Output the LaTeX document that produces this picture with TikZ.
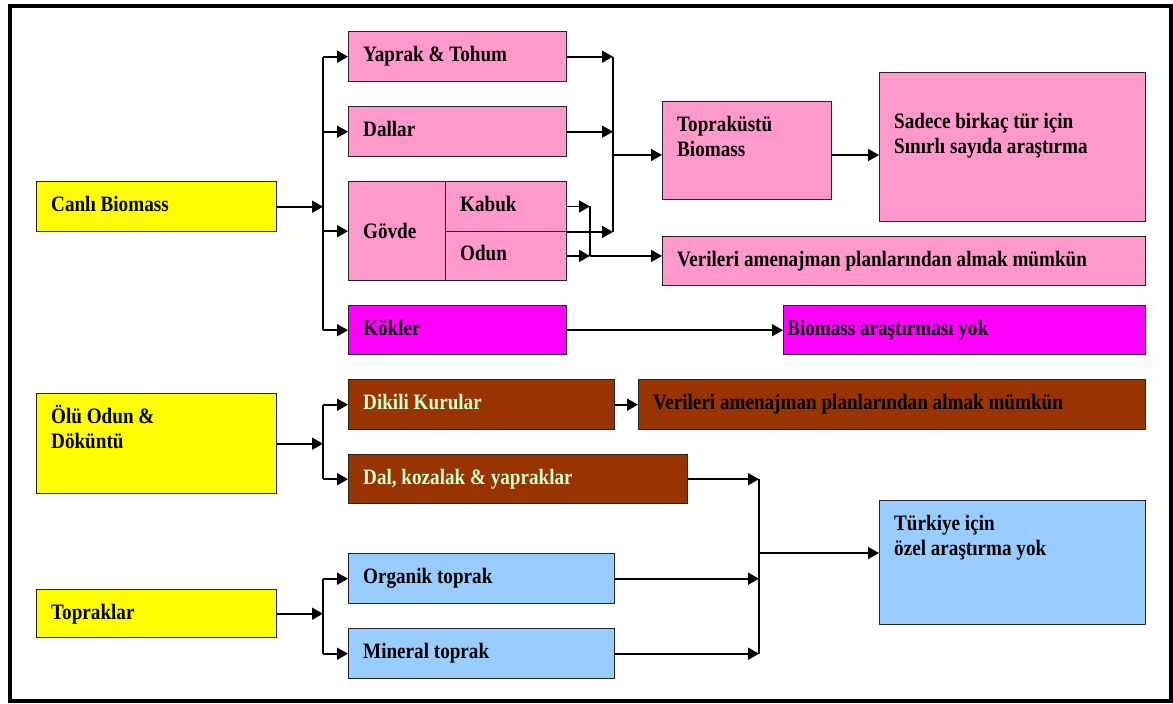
\documentclass[tikz,border=0pt]{standalone}
\usepackage{fontspec}
\setmainfont{Liberation Serif}[FakeStretch=0.87]
\usetikzlibrary{arrows.meta,positioning,calc}
\usepackage{xcolor}
\definecolor{yel}{HTML}{FFFF00}
\definecolor{pnk}{HTML}{FF99CC}
\definecolor{mag}{HTML}{FF00FF}
\definecolor{brn}{HTML}{993300}
\definecolor{blu}{HTML}{99CCFF}
\definecolor{lgrn}{HTML}{CCFFCC}

\begin{document}
\begin{tikzpicture}[x=1pt, y=-1pt,
  box/.style={rectangle, draw=black!85, line width=1.4pt, fill=#1, anchor=north west, inner sep=0pt},
  lbl/.style={anchor=base west, xshift=15pt, yshift=-30pt, align=left, inner sep=0pt,
    font=\fontsize{22}{25}\selectfont\bfseries},
  txt/.style={label={[lbl]north west:{#1}}},
  txttwo/.style={label={[lbl, yshift=-25pt]north west:{#1}}},
  ltxt/.style={label={[lbl, text=lgrn]north west:{#1}}},
  arr/.style={-{Triangle[length=11pt, width=12pt]}, line width=1.6pt},
  link/.style={line width=1.6pt}
]
  \useasboundingbox (0,0) rectangle (1173,704);
  \draw[line width=4pt] (9.5,5.5) rectangle (1170.5,700.5);

  % left column
  \node[box=yel, minimum width=240pt, minimum height=50pt, txt={Canlı Biomass}] (canli) at (36,181) {};
  \node[box=yel, minimum width=240pt, minimum height=100pt, txttwo={Ölü Odun \&\\Döküntü}] (olu) at (36,393) {};
  \node[box=yel, minimum width=240pt, minimum height=48pt, txt={Topraklar}] (toprak) at (36,589) {};

  % canli biomass
  \node[box=pnk, minimum width=218pt, minimum height=50pt, txt={Yaprak \& Tohum}] (yaprak) at (348,31) {};
  \node[box=pnk, minimum width=218pt, minimum height=50pt, txt={Dallar}] (dallar) at (348,106) {};
  \node[box=pnk, minimum width=97pt, minimum height=99pt, label={[lbl, yshift=-27pt]north west:Gövde}] (govde) at (348,181) {};
  \node[box=pnk, minimum width=121pt, minimum height=49.5pt, txt={Kabuk}] (kabuk) at (445,181) {};
  \node[box=pnk, minimum width=121pt, minimum height=49.5pt, txt={Odun}] (odun) at (445,230.5) {};
  \node[box=mag, minimum width=218pt, minimum height=49pt, txt={Kökler}] (kokler) at (348,305) {};

  \node[box=pnk, minimum width=169pt, minimum height=98pt, txttwo={Topraküstü\\Biomass}] (ustu) at (662,101) {};
  \node[box=pnk, minimum width=266pt, minimum height=149pt,
    label={[lbl, yshift=-51pt]north west:{Sadece birkaç tür için\\Sınırlı sayıda araştırma}}] (sadece) at (879,72) {};
  \node[box=pnk, minimum width=483pt, minimum height=49pt, txt={Verileri amenajman planlarından almak mümkün}] (veri1) at (662,236) {};
  \node[box=mag, minimum width=362pt, minimum height=49pt,
    label={[lbl, xshift=-11pt]north west:Biomass araştırması yok}] (yok) at (783,305) {};

  % olu odun
  \node[box=brn, minimum width=266pt, minimum height=50pt, ltxt={Dikili Kurular}] (dikili) at (348,379) {};
  \node[box=brn, minimum width=507pt, minimum height=50pt, txt={Verileri amenajman planlarından almak mümkün}] (veri2) at (638,379) {};
  \node[box=brn, minimum width=339pt, minimum height=49pt, ltxt={Dal, kozalak \& yapraklar}] (dal) at (348,454) {};

  % topraklar
  \node[box=blu, minimum width=266pt, minimum height=50pt, txt={Organik toprak}] (organik) at (348,553) {};
  \node[box=blu, minimum width=266pt, minimum height=50pt, txt={Mineral toprak}] (mineral) at (348,628) {};
  \node[box=blu, minimum width=266pt, minimum height=124pt, txttwo={Türkiye için\\özel araştırma yok}] (turkiye) at (879,500) {};

  % junctions
  \coordinate (t1) at (323,0);
  \coordinate (k1) at (590,0);
  \coordinate (c1) at (613,155);
  \coordinate (c2) at (759,553);

  % left trunks
  \draw[arr] (canli.east) -- (canli.east -| t1);
  \draw[link] (t1 |- yaprak.west) -- (t1 |- kokler.west);
  \foreach \n in {yaprak,dallar,govde,kokler}
    \draw[arr] (t1 |- \n.west) -- (\n.west);
  \draw[arr] (olu.east) -- (olu.east -| t1);
  \draw[link] (t1 |- dikili.west) -- (t1 |- dal.west);
  \foreach \n in {dikili,dal}
    \draw[arr] (t1 |- \n.west) -- (\n.west);
  \draw[arr] (toprak.east) -- (toprak.east -| t1);
  \draw[link] (t1 |- organik.west) -- (t1 |- mineral.west);
  \foreach \n in {organik,mineral}
    \draw[arr] (t1 |- \n.west) -- (\n.west);

  % to topraküstü
  \foreach \n in {yaprak,dallar}
    \draw[arr] (\n.east) -- (\n.east -| c1);
  \draw[arr] (kabuk.south east) -- (kabuk.south east -| c1);
  \draw[link] (c1 |- yaprak.east) -- (c1 |- kabuk.south east);
  \draw[arr] (c1) -- (c1 -| ustu.west);
  \draw[arr] (ustu.east |- c1) -- (sadece.west |- c1);

  % kabuk, odun
  \draw[arr] (kabuk.east) -- (kabuk.east -| k1);
  \draw[arr] (odun.east) -- (odun.east -| k1);
  \draw[link] (kabuk.east -| k1) -- (odun.east -| k1);
  \draw[arr] (odun.east -| k1) -- (odun.east -| veri1.west);

  \draw[arr] (kokler.east) -- (kokler.east -| yok.west);
  \draw[arr] (dikili.east) -- (veri2.west);

  % to türkiye
  \foreach \n in {dal,organik,mineral}
    \draw[arr] (\n.east) -- (\n.east -| c2);
  \draw[link] (c2 |- dal.east) -- (c2 |- mineral.east);
  \draw[arr] (c2) -- (c2 -| turkiye.west);
\end{tikzpicture}
\end{document}
